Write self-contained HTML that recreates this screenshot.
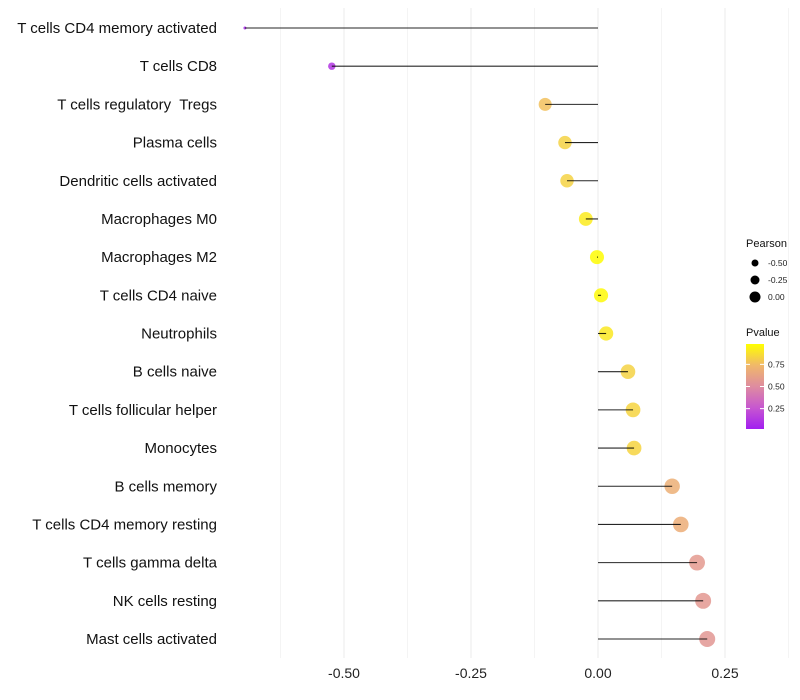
<!DOCTYPE html>
<html><head><meta charset="utf-8"><style>
body{margin:0;background:#fff;font-family:"Liberation Sans",sans-serif}
text{white-space:pre}
</style></head><body>
<svg id="c" width="800" height="700" xmlns="http://www.w3.org/2000/svg" style="display:block">
</svg>
<script>
const categories=["T cells CD4 memory activated","T cells CD8","T cells regulatory  Tregs","Plasma cells","Dendritic cells activated","Macrophages M0","Macrophages M2","T cells CD4 naive","Neutrophils","B cells naive","T cells follicular helper","Monocytes","B cells memory","T cells CD4 memory resting","T cells gamma delta","NK cells resting","Mast cells activated"];
const pearson=[-0.695,-0.524,-0.104,-0.065,-0.061,-0.024,-0.002,0.006,0.016,0.059,0.069,0.071,0.146,0.163,0.195,0.207,0.215];
const pvalue=[0.04,0.1,0.78,0.84,0.84,0.93,0.99,0.98,0.92,0.84,0.85,0.85,0.7,0.69,0.58,0.57,0.56];
const xTicks=[-0.5,-0.25,0,0.25];
const xTickLabels=["-0.50","-0.25","0.00","0.25"];
const legendSizes=[-0.5,-0.25,0];
const legendSizeLabels=["-0.50","-0.25","0.00"];
const legendColorTicks=[0.25,0.5,0.75];
const legendColorLabels=["0.25","0.50","0.75"];

const svg=document.getElementById('c');
const NS="http://www.w3.org/2000/svg";
function x(v){return 598+v*508;}
function y(i){return 28+i*(639-28)/(categories.length-1);}
function r(v){return Math.sqrt(Math.max(0.5,2.25+68*(v+0.695)));}
const stops=[[0,[162,31,240]],[0.25,[199,87,208]],[0.5,[222,140,160]],[0.75,[240,184,106]],[1,[255,255,0]]];
function col(p){for(let k=1;k<stops.length;k++){if(p<=stops[k][0]){const a=stops[k-1],b=stops[k],t=(p-a[0])/(b[0]-a[0]);return 'rgb('+a[1].map((c,j)=>Math.round(c+(b[1][j]-c)*t)).join(',')+')';}}return 'rgb(255,255,0)';}
function el(t,a){const e=document.createElementNS(NS,t);for(const k in a)e.setAttribute(k,a[k]);svg.appendChild(e);return e;}

for(let g=-0.625;g<=0.38;g+=0.125){
  const e=el('line',{x1:x(g),x2:x(g),y1:8,y2:658,stroke:(Math.abs(g*8%2)<1e-6)?'#ebebeb':'#f4f4f4','stroke-width':1});
  
  
}
xTicks.forEach((t,i)=>{
  const e=el('text',{x:x(t),y:678,'text-anchor':'middle','font-size':14,fill:'#222'});
  e.textContent=xTickLabels[i];
  
  
});
categories.forEach((c,i)=>{
  const t=el('text',{x:217,y:y(i)+5,'text-anchor':'end','font-size':15,fill:'#111'});
  t.textContent=c;
  
  
  const p=el('circle',{cx:x(pearson[i]),cy:y(i),r:r(pearson[i]),fill:col(pvalue[i]),'fill-opacity':0.85});
  
  
  const s=el('line',{x1:x(0),x2:x(pearson[i]),y1:y(i),y2:y(i),stroke:'#000','stroke-width':1.1,'stroke-opacity':0.85});
  
  
});
let t=el('text',{x:746,y:247,'font-size':11,fill:'#111'});t.textContent='Pearson';


legendSizes.forEach((v,i)=>{
  const c=el('circle',{cx:755,cy:263+i*17,r:3.5+i*1,fill:'#000'});
  
  
  const l=el('text',{x:768,y:266+i*17,'font-size':8.5,fill:'#222'});l.textContent=legendSizeLabels[i];
  
  
});
t=el('text',{x:746,y:336,'font-size':11,fill:'#111'});t.textContent='Pvalue';


const defs=el('defs',{});
const lg=document.createElementNS(NS,'linearGradient');lg.setAttribute('id','g');lg.setAttribute('x1',0);lg.setAttribute('y1',1);lg.setAttribute('x2',0);lg.setAttribute('y2',0);
stops.forEach(s=>{const st=document.createElementNS(NS,'stop');st.setAttribute('offset',s[0]);st.setAttribute('stop-color','rgb('+s[1].join(',')+')');lg.appendChild(st);});
defs.appendChild(lg);
const bar=el('rect',{x:746,y:344,width:18,height:85,fill:'url(#g)'});


function ly(p){return 429-(p-0.02)/(0.98-0.02)*85;}
legendColorTicks.forEach((v,i)=>{
  el('line',{x1:746,x2:750,y1:ly(v),y2:ly(v),stroke:'#fff'});
  el('line',{x1:760,x2:764,y1:ly(v),y2:ly(v),stroke:'#fff'});
  const l=el('text',{x:768,y:ly(v)+3,'font-size':8.5,fill:'#222'});l.textContent=legendColorLabels[i];
  
  
});
</script>
</body></html>
